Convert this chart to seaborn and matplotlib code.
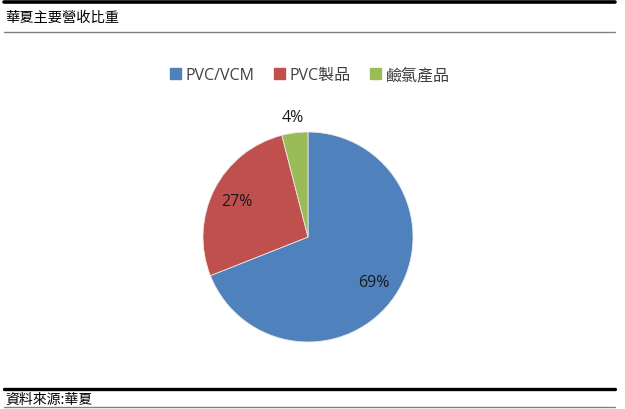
import numpy as np
import matplotlib
matplotlib.use("Agg")
import matplotlib.pyplot as plt
import seaborn as sns
from matplotlib.lines import Line2D

categories = ["PVC/VCM", "PVC製品", "鹼氯產品"]
values = [69, 27, 4]
colors = ["#4F81BD", "#C0504D", "#9BBB59"]
title = "華夏主要營收比重"
source = "資料來源:華夏"

sns.set_theme(style="white")
plt.rcParams['font.family'] = ['Noto Sans CJK TC', 'DejaVu Sans']

W, H = 625, 410
fig = plt.figure(figsize=(W / 100, H / 100), dpi=100)

def fx(x): return x / W
def fy(y): return 1 - y / H

# header / footer rules
fig.add_artist(Line2D([fx(4), fx(615)], [fy(3), fy(3)], color="black", lw=2.6))
fig.add_artist(Line2D([fx(4), fx(615)], [fy(33), fy(33)], color="#808080", lw=1.0))
fig.add_artist(Line2D([fx(4), fx(615)], [fy(390), fy(390)], color="black", lw=2.4))
fig.add_artist(Line2D([fx(4), fx(615)], [fy(408), fy(408)], color="#808080", lw=1.0))
fig.text(fx(5), fy(18), title, fontsize=10.3, va="center", ha="left", color="black")
fig.text(fx(5), fy(399.5), source, fontsize=10, va="center", ha="left", color="black")

# pie
cx, cy, R = 308, 238, 105
half = 130
ax = fig.add_axes([fx(cx - half), fy(cy + half), 2 * half / W, 2 * half / H])
wedges, _ = ax.pie(values, colors=colors, startangle=90, counterclock=False,
                   radius=1.0, wedgeprops=dict(edgecolor="#e8e8e8", linewidth=0.6))
lim = half / R
ax.set_xlim(-lim, lim)
ax.set_ylim(-lim, lim)
ax.set_aspect("equal")
ax.axis("off")

total = sum(values)
for w, v in zip(wedges, values):
    mid = np.deg2rad((w.theta1 + w.theta2) / 2)
    frac = v / total
    r = 0.76 if frac > 0.1 else 1.15
    ax.text(r * np.cos(mid), r * np.sin(mid), f"{v}%", ha="center", va="center",
            fontsize=11.5, color="#1a1a1a", family=['Open Sans', 'DejaVu Sans'])

handles = [plt.Rectangle((0, 0), 1, 1, color=c) for c in colors]
fig.legend(handles, categories, loc="center", bbox_to_anchor=(fx(310), fy(76)),
           ncol=3, frameon=False, handlelength=0.7, handleheight=0.7,
           handletextpad=0.3, columnspacing=1.2,
           prop={'family': ['Open Sans', 'Noto Sans CJK TC'], 'size': 11.5})
for t in fig.legends[0].get_texts():
    t.set_color("#404040")

fig.savefig("out.png", dpi=100, facecolor="white")
